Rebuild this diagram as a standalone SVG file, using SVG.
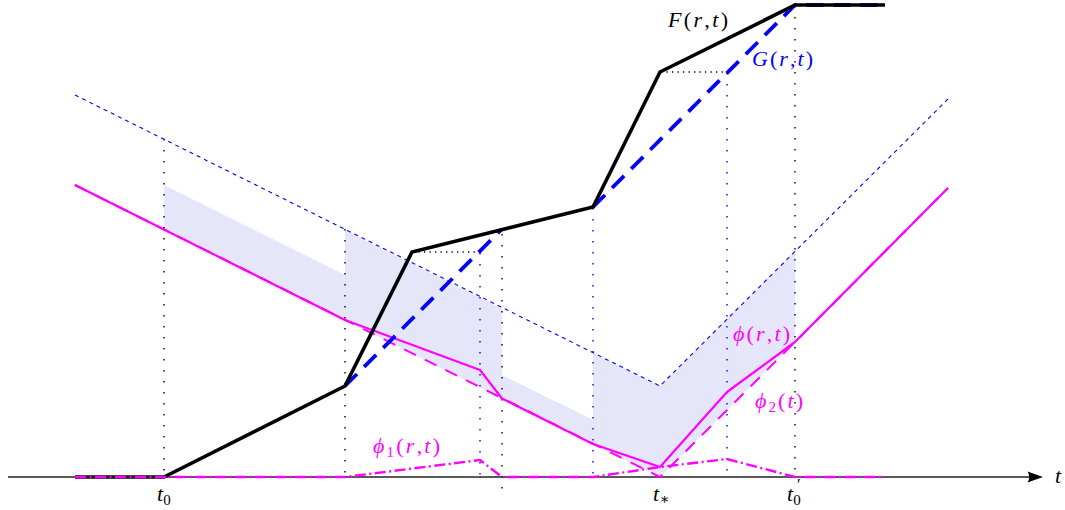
<svg xmlns="http://www.w3.org/2000/svg" width="1065" height="510" viewBox="0 0 1065 510">
<style>
.shade{fill:#e6e6fa;stroke:none}
.vdot{fill:none;stroke:#000;stroke-width:1.4;stroke-dasharray:1.4 9.6}
.vdotb{fill:none;stroke:#0000ff;stroke-width:1.4;stroke-dasharray:1.4 9.6}
.hdot{fill:none;stroke:#000;stroke-width:1.3;stroke-dasharray:1.3 4.2}
.env{fill:none;stroke:#0000ff;stroke-width:1.1;stroke-dasharray:4 4}
.phi2{fill:none;stroke:#ff00ff;stroke-width:2;stroke-dasharray:13 10}
.phi{fill:none;stroke:#ff00ff;stroke-width:2.2;stroke-linejoin:round}
.phi1{fill:none;stroke:#ff00ff;stroke-width:2.4;stroke-dasharray:11 3.5 2 3.5}
.G{fill:none;stroke:#0000ff;stroke-width:3.8;stroke-dasharray:17 10}
.F{fill:none;stroke:#000;stroke-width:3.6;stroke-linejoin:miter}
.axis{fill:none;stroke:#222;stroke-width:1.3}
text{font-family:"Liberation Serif","DejaVu Serif",serif;font-size:22px}
.it{font-style:italic}
.sub{font-size:15px}
</style>
<g id="shading">
<polygon class="shade" points="164,185 345,275 345,320 164,230"/>
<polygon class="shade" points="345,230 502,308.5 502,398.5 345,320"/>
<polygon class="shade" points="502,375 593,420 593,444 502,398.5"/>
<polygon class="shade" points="593,353 660,386 795,251 795,342 660,477 593,444"/>
</g>
<g id="guides">
<line class="vdot" x1="164" y1="139" x2="164" y2="477"/>
<line class="vdot" x1="345" y1="229" x2="345" y2="477"/>
<line class="vdot" x1="502" y1="234" x2="502" y2="490"/>
<line class="vdot" x1="795" y1="6" x2="795" y2="477"/>
<line class="vdotb" x1="480" y1="253" x2="480" y2="477"/>
<line class="vdotb" x1="593" y1="208" x2="593" y2="477"/>
<line class="vdotb" x1="727" y1="73" x2="727" y2="477"/>
<line class="hdot" x1="413" y1="252" x2="480" y2="252"/>
<line class="hdot" x1="661" y1="72" x2="727" y2="72"/>
</g>
<g id="axis">
<line class="axis" x1="8" y1="477" x2="1032" y2="477"/>
<path d="M1043,477 L1027.5,471.5 Q1031,477 1027.5,482.5 Z" fill="#000"/>
</g>
<g id="connectors">
<polyline id="envelope" class="env" points="75,95 660,386 951,96"/>
<polyline id="phi2-curve" class="phi2" points="75,185 660,477 795,342 948,188"/>
<polyline id="phi-curve" class="phi" points="75,185 345,320 480,370 502,398.5 593,444 660,467 727,392 795,342 948,188"/>
<polyline id="G-curve" class="G" points="345,386 502,229"/>
<polyline id="G-curve2" class="G" points="593,207 795,5 885,5"/>
<polyline id="F-curve" class="F" points="75,477 164,477 345,386 412,252 593,207 660,72 795,5 885,5"/>
<polyline id="phi1-curve" class="phi1" points="75,477 345,477 480,460 502,477 593,477 660,467 727,459 795,477 885,477"/>
</g>
<g id="labels">
<text id="lbl-F" x="668" y="27" textLength="60" lengthAdjust="spacing" fill="#000"><tspan class="it">F</tspan>(<tspan class="it">r</tspan>,<tspan class="it">t</tspan>)</text>
<text id="lbl-G" x="752" y="66" textLength="61" lengthAdjust="spacing" fill="#0000ff"><tspan class="it">G</tspan>(<tspan class="it">r</tspan>,<tspan class="it">t</tspan>)</text>
<text id="lbl-phi" x="733" y="341" textLength="57" lengthAdjust="spacing" fill="#ff00ff"><tspan class="it">ϕ</tspan>(<tspan class="it">r</tspan>,<tspan class="it">t</tspan>)</text>
<text id="lbl-phi2" x="755" y="408" textLength="48" lengthAdjust="spacing" fill="#ff00ff"><tspan class="it">ϕ</tspan><tspan class="sub" dy="4">2</tspan><tspan dy="-4">(</tspan><tspan class="it">t</tspan>)</text>
<text id="lbl-phi1" x="373" y="453" textLength="67" lengthAdjust="spacing" fill="#ff00ff"><tspan class="it">ϕ</tspan><tspan class="sub" dy="4">1</tspan><tspan dy="-4">(</tspan><tspan class="it">r</tspan>,<tspan class="it">t</tspan>)</text>
<text id="lbl-t0" x="157" y="501" fill="#000"><tspan class="it">t</tspan><tspan class="sub" dy="4">0</tspan></text>
<text id="lbl-tstar" x="653" y="501" fill="#000"><tspan class="it">t</tspan><tspan class="sub" dy="3">∗</tspan></text>
<text id="lbl-t0p" x="787" y="501" fill="#000"><tspan class="it">t</tspan><tspan class="sub" dy="4">0</tspan></text>
<text id="lbl-t0p-prime" x="797" y="490" fill="#000" style="font-size:16px">′</text>
<text id="lbl-t" x="1055" y="483" fill="#000" class="it">t</text>
</g>
</svg>
